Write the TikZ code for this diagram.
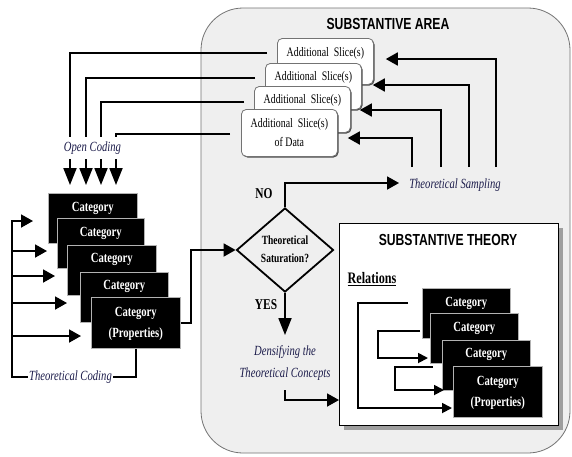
\documentclass[tikz,border=0pt]{standalone}
\usepackage{fontspec}
\setmainfont{Liberation Serif}
\newfontfamily\arialf{Liberation Sans}
\usetikzlibrary{arrows.meta,shapes.geometric,calc}
\newcommand{\sq}[1]{\scalebox{0.76}[1]{#1}}
\newcommand{\twoline}[2]{\sq{\begin{tabular}{@{}c@{}}#1\\#2\end{tabular}}}
\definecolor{navy}{RGB}{28,28,75}
\definecolor{areagray}{RGB}{239,239,239}
\begin{document}
\begin{tikzpicture}[x=1pt,y=-1pt,
 ln/.style={line width=1.8pt},
 arr/.style={ln,-{Triangle[length=12pt,width=13pt]}},
 bigarr/.style={ln,-{Triangle[length=17pt,width=13pt]}},
 smarr/.style={ln,-{Triangle[length=10pt,width=10pt]}},
 catbox/.style={fill=black,draw=gray!60,line width=0.6pt,anchor=north west,minimum width=89pt,minimum height=50pt,inner sep=0pt},
 cattxt/.style={text=white,font=\fontsize{14}{21}\selectfont\bfseries,inner sep=0pt},
 slicebox/.style={fill=white,draw=black!55,line width=0.8pt,rounded corners=5pt,anchor=north west,minimum width=96pt,minimum height=46pt,inner sep=0pt},
 sliceshadow/.style={fill=black!70,rounded corners=5pt,anchor=north west,minimum width=96pt,minimum height=46pt,inner sep=0pt},
 slicetxt/.style={font=\fontsize{13}{19}\selectfont,inner sep=0pt},
 lbl/.style={font=\fontsize{14}{22}\selectfont\itshape,text=navy,inner sep=1pt},
 boldlbl/.style={font=\fontsize{15}{18}\selectfont\bfseries,inner sep=0pt},
]
\useasboundingbox (0,0) rectangle (572,456);
\fill[white] (0,0) rectangle (572,456);

% substantive area
\draw[fill=areagray,draw=black!55,line width=0.8pt,rounded corners=42pt] (201,8) rectangle (570,453);
\node[font=\fontsize{16}{19}\selectfont\arialf\bfseries,inner sep=0pt] (areat) at (388,24) {\sq{SUBSTANTIVE AREA}};

% slices
\node[sliceshadow] (s1s) at (278.3,39.3) {};
\node[slicebox] (s1) at (277,38) {};
\node[slicetxt] (s1t) at ($(s1.north)+(0,15)$) {\sq{Additional\ \ Slice(s)}};
\node[sliceshadow] (s2s) at (266.3,64.3) {};
\node[slicebox] (s2) at (265,63) {};
\node[slicetxt] (s2t) at ($(s2.north)+(0,14)$) {\sq{Additional\ \ Slice(s)}};
\node[sliceshadow] (s3s) at (255.3,87.3) {};
\node[slicebox] (s3) at (254,86) {};
\node[slicetxt] (s3t) at ($(s3.north)+(0,14)$) {\sq{Additional\ \ Slice(s)}};
\node[sliceshadow,minimum height=47pt] (s4s) at (242.3,110.3) {};
\node[slicebox,minimum height=47pt] (s4) at (241,109) {};
\node[slicetxt] (s4t) at ($(s4.north)+(0,24.5)$) {\twoline{Additional\ \ Slice(s)}{of Data}};

% open coding
\coordinate (oc1) at (70,185);
\coordinate (oc2) at (86,185);
\coordinate (oc3) at (101,185);
\coordinate (oc4) at (116,185);
\draw[bigarr] ($(s1.north west)+(-10,15)$) -| (oc1);
\draw[bigarr] ($(s2.north west)+(-10,15)$) -| (oc2);
\draw[bigarr] ($(s3.north west)+(-10,16)$) -| (oc3);
\draw[bigarr] ($(s4.north west)+(-11,25)$) -| (oc4);
\node[lbl,fill=white,minimum height=22pt] (oc) at (92.5,148) {\sq{Open Coding}};

% theoretical sampling
\node[lbl] (ts) at (455,185) {\sq{Theoretical Sampling}};
\coordinate (a1) at (496,167);
\coordinate (a2) at (469,167);
\coordinate (a3) at (441,167);
\coordinate (a4) at (412,167);
\draw[arr] (a1) |- ($(s1.north east)+(12,21)$);
\draw[arr] (a2) |- ($(s2.north east)+(11,22)$);
\draw[arr] (a3) |- ($(s3.north east)+(9,24)$);
\draw[arr] (a4) |- ($(s4.north east)+(10,29)$);

% left category stack
\node[catbox] (L1) at (48,193) {};
\node[cattxt] at ($(L1.north)+(0,15)$) {\sq{Category}};
\node[catbox,minimum width=87pt] (L2) at (57,218) {};
\node[cattxt] at ($(L2.north)+(0,15)$) {\sq{Category}};
\node[catbox] (L3) at (67,245) {};
\node[cattxt] at ($(L3.north)+(0,14)$) {\sq{Category}};
\node[catbox,minimum width=88pt] (L4) at (80,272) {};
\node[cattxt] at ($(L4.north)+(0,14)$) {\sq{Category}};
\node[catbox,minimum height=51pt] (L5) at (91,297) {};
\node[cattxt] at ($(L5.north)+(0,26)$) {\twoline{Category}{(Properties)}};

% theoretical coding
\coordinate (lc) at (12,377);
\coordinate (t1) at ($(L1.north west)+(-15,28)$);
\coordinate (t2) at ($(L2.north west)+(-10,33)$);
\coordinate (t3) at ($(L3.north west)+(-12,31)$);
\coordinate (t4) at ($(L4.north west)+(-13,31)$);
\coordinate (t5) at ($(L5.north west)+(-10,39)$);
\draw[arr] (L5.south) |- (lc) |- (t1);
\draw[arr] (lc |- t2) -- (t2);
\draw[arr] (lc |- t3) -- (t3);
\draw[arr] (lc |- t4) -- (t4);
\draw[arr] (lc |- t5) -- (t5);
\node[lbl,fill=white] (tc) at (70.5,377) {\sq{Theoretical Coding}};

% diamond
\node[draw,diamond,line width=1.8pt,minimum width=97pt,minimum height=83pt,inner sep=0pt,
      font=\fontsize{12.5}{18}\selectfont\bfseries] (d) at (285,250) {\twoline{Theoretical}{Saturation?}};
\draw[arr] ($(L5.east)+(0,0.5)$) -- ++(10,0) |- (d.west);
\draw[arr] (d.north) |- ($(ts.west)+(-9,-2)$);
\node[boldlbl] (no) at (264,194) {\sq{NO}};
\draw[bigarr] (d.south) -- (285,335) coordinate (yesend);
\node[boldlbl] (yes) at (266,305) {\sq{YES}};
\node[lbl] (dens) at (285,362) {\twoline{Densifying the}{Theoretical Concepts}};

% substantive theory
\fill[black!38] (344,228) rectangle (563,430);
\node[draw,fill=white,line width=1.2pt,minimum width=219pt,minimum height=202pt,anchor=north west,inner sep=0pt] (th) at (339,223) {};
\node[font=\fontsize{16}{19}\selectfont\arialf\bfseries,inner sep=0pt] (tht) at (448,240) {\sq{SUBSTANTIVE THEORY}};
\node[font=\fontsize{16}{19}\selectfont\bfseries,inner sep=0pt] (rel) at (372,279) {\sq{\underline{Relations}}};
\draw[arr] ($(dens.south)+(0,5)$) |- (th.west |- 0,400);

\node[catbox,minimum width=88pt] (c1) at (422,288) {};
\node[cattxt] at ($(c1.north)+(0,15)$) {\sq{Category}};
\node[catbox,minimum width=88pt] (c2) at (430,313) {};
\node[cattxt] at ($(c2.north)+(0,15)$) {\sq{Category}};
\node[catbox,minimum width=88pt] (c3) at (442,340) {};
\node[cattxt] at ($(c3.north)+(0,14)$) {\sq{Category}};
\node[catbox,minimum height=51pt] (c4) at (453,366) {};
\node[cattxt] at ($(c4.north)+(0,26)$) {\twoline{Category}{(Properties)}};

\draw[smarr] ($(c1.north west)+(-14,15)$) -- (358,303) |- ($(c4.north west)+(-1,42)$);
\draw[smarr] ($(c2.north west)+(-10,18)$) -- (378,331) |- ($(c3.north west)+(-14,18)$);
\draw[smarr] ($(c3.north west)+(-9,27)$) -- (395,367) |- ($(c4.north west)+(-9,24)$);
\end{tikzpicture}
\end{document}
